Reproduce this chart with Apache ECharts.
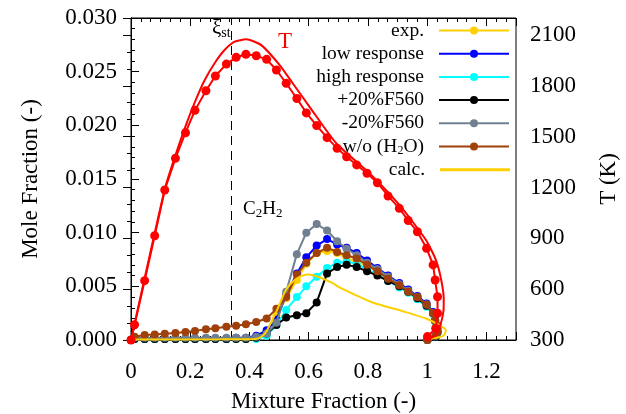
<!DOCTYPE html>
<html><head><meta charset="utf-8">
<script src="https://cdn.jsdelivr.net/npm/echarts@6/dist/echarts.min.js"></script>
<style>html,body{margin:0;padding:0;background:#fff}#c{width:626px;height:414px}</style>
</head><body><div id="c"></div>
<script>
// ---- data ----
const XI_EXP = [0, 0.012, 0.046, 0.080, 0.114, 0.150, 0.184, 0.216, 0.253, 0.285, 0.322, 0.355, 0.388, 0.423, 0.458, 0.491, 0.524, 0.560, 0.592, 0.627, 0.662, 0.696, 0.728, 0.762, 0.797, 0.832, 0.868, 0.906, 0.936, 0.967, 0.998, 1.020, 1.027, 1.035, 1.035, 1.029, 1.001];
const C2H2_EXP  = [0, 0.0001, 0.0001, 0.0001, 0.0001, 0.0001, 0.0001, 0.0001, 0.0001, 0.0001, 0.0001, 0.0001, 0.0001, 0.0003, 0.0008, 0.0023, 0.0039, 0.0056, 0.0071, 0.0081, 0.0083, 0.0081, 0.0076, 0.0073, 0.0069, 0.0064, 0.0058, 0.0052, 0.0046, 0.0040, 0.0033, 0.0025, 0.0018, 0.0012, 0.0008, 0.0004, 0];
const C2H2_LOW  = [0, 0.0001, 0.0001, 0.0001, 0.0001, 0.0001, 0.0001, 0.0001, 0.0001, 0.0001, 0.0001, 0.0002, 0.0002, 0.0004, 0.0009, 0.0019, 0.0042, 0.0062, 0.0077, 0.0088, 0.0094, 0.0089, 0.0086, 0.0081, 0.0074, 0.0067, 0.0060, 0.0053, 0.0047, 0.0041, 0.0034, 0.0026, 0.0019, 0.0013, 0.0008, 0.0004, 0];
const C2H2_HIGH = [0, 0.0001, 0.0001, 0.0001, 0.0001, 0.0001, 0.0001, 0.0001, 0.0001, 0.0001, 0.0001, 0.0001, 0.0001, 0.0001, 0.0004, 0.0014, 0.0028, 0.0040, 0.0050, 0.0059, 0.0067, 0.0072, 0.0073, 0.0071, 0.0066, 0.0061, 0.0055, 0.0049, 0.0044, 0.0038, 0.0031, 0.0024, 0.0017, 0.0011, 0.0007, 0.0003, 0];
const C2H2_P20  = [0, 0.0001, 0.0001, 0.0001, 0.0001, 0.0001, 0.0001, 0.0001, 0.0001, 0.0001, 0.0001, 0.0001, 0.0001, 0.0002, 0.0006, 0.0014, 0.0021, 0.0023, 0.0025, 0.0035, 0.0062, 0.0068, 0.0070, 0.0068, 0.0064, 0.0060, 0.0055, 0.0050, 0.0045, 0.0039, 0.0032, 0.0025, 0.0018, 0.0012, 0.0007, 0.0003, 0];
const C2H2_M20  = [0, 0.0002, 0.0002, 0.0002, 0.0002, 0.0002, 0.0002, 0.0002, 0.0002, 0.0002, 0.0002, 0.0002, 0.0002, 0.0003, 0.0006, 0.0016, 0.0045, 0.0080, 0.0100, 0.0108, 0.0102, 0.0092, 0.0085, 0.0079, 0.0072, 0.0066, 0.0059, 0.0052, 0.0046, 0.0040, 0.0033, 0.0025, 0.0018, 0.0012, 0.0008, 0.0004, 0];
const C2H2_NOH2O= [0, 0.0003, 0.00047, 0.00052, 0.00058, 0.00066, 0.00075, 0.00085, 0.0010, 0.0011, 0.00124, 0.00133, 0.00146, 0.00168, 0.0020, 0.0029, 0.0040, 0.0061, 0.0072, 0.0081, 0.0086, 0.0082, 0.0079, 0.0076, 0.0070, 0.0064, 0.0057, 0.0051, 0.0045, 0.0040, 0.0033, 0.0025, 0.0018, 0.0012, 0.0008, 0.0004, 0];
const T_EXP = [300, 390, 650, 915, 1185, 1372, 1523, 1655, 1771, 1858, 1928, 1968, 1986, 1977, 1956, 1893, 1815, 1725, 1640, 1565, 1494, 1431, 1381, 1333, 1284, 1228, 1150, 1077, 1005, 939, 841, 743, 654, 555, 458, 369, 320];

const XI_CALC   = [0, 0.30, 0.42, 0.44, 0.457, 0.49, 0.524, 0.558, 0.60, 0.64, 0.681, 0.704, 0.75, 0.816, 0.928, 0.996, 1.04, 1.063, 1.055, 1.03, 1.007];
const C2H2_CALC = [0.00005, 0.00006, 0.0001, 0.0003, 0.0008, 0.0026, 0.0047, 0.0057, 0.0061, 0.0058, 0.0053, 0.0049, 0.0043, 0.0035, 0.0026, 0.0020, 0.0014, 0.0009, 0.0004, 0.0002, 0.0001];
const XI_TCALC  = [0, 0.114, 0.150, 0.184, 0.216, 0.249, 0.285, 0.316, 0.350, 0.389, 0.44, 0.502, 0.546, 0.603, 0.693, 0.805, 0.906, 0.996, 1.030, 1.048, 1.056, 1.055, 1.045, 1.029, 1.012, 1.0];
const T_CALC    = [300, 1190, 1390, 1560, 1705, 1834, 1940, 2011, 2060, 2074, 2040, 1922, 1815, 1676, 1461, 1284, 1097, 890, 770, 650, 540, 470, 390, 330, 310, 300];

const XI_ST = 0.343;
const X_TICKS = {min: 0, max: 1.3, interval: 0.2};
const Y_TICKS = {min: 0, max: 0.030, interval: 0.005};
const T_TICKS = {min: 300, max: 2200, interval: 300};

const NAMES = ['exp.', 'low response', 'high response', '+20%F560', '-20%F560', 'w/o (H2O)', 'calc.'];
const COLORS = ['#FFD000', '#0000FF', '#00FFFF', '#000000', '#708090', '#A0400A', '#FFD000'];
const SERIES_DATA = [C2H2_EXP, C2H2_LOW, C2H2_HIGH, C2H2_P20, C2H2_M20, C2H2_NOH2O];

// ---- chart ----
const FONT = 'Liberation Serif';
const AX_FS = 23;
const LG_FS = 19.5;
const pair = (xs, ys) => xs.map((x, i) => [x, ys[i]]);
const chart = echarts.init(document.getElementById('c'), null, {renderer: 'canvas'});

const axisCommon = {
  axisLine: {show: true, lineStyle: {color: '#000', width: 1}},
  axisTick: {show: true, inside: true, length: 8, lineStyle: {color: '#000'}},
  splitLine: {show: false},
  nameTextStyle: {fontFamily: FONT, fontSize: AX_FS, color: '#000'}
};

const series = [];
SERIES_DATA.forEach((d, i) => {
  series.push({
    name: NAMES[i], type: 'line', xAxisIndex: 0, yAxisIndex: 0,
    data: pair(XI_EXP, d), symbol: 'circle', symbolSize: 8, showSymbol: true,
    lineStyle: {color: COLORS[i], width: 2}, itemStyle: {color: COLORS[i]},
    z: 2 + i, animation: false
  });
});
series.push({
  name: 'calc.', type: 'line', xAxisIndex: 0, yAxisIndex: 0,
  data: pair(XI_CALC, C2H2_CALC), symbol: 'none', smooth: 0.3,
  lineStyle: {color: COLORS[6], width: 2}, itemStyle: {color: COLORS[6]}, z: 9, animation: false,
  markLine: {silent: true, symbol: 'none', label: {show: false},
    lineStyle: {type: [9, 6], color: '#000', width: 1}, data: [{xAxis: XI_ST}], animation: false}
});
series.push({
  name: 'T exp', type: 'line', xAxisIndex: 0, yAxisIndex: 1,
  data: pair(XI_EXP, T_EXP), symbol: 'circle', symbolSize: 9,
  lineStyle: {color: '#FF0000', width: 2}, itemStyle: {color: '#FF0000'}, z: 10, animation: false
});
series.push({
  name: 'T calc', type: 'line', xAxisIndex: 0, yAxisIndex: 1,
  data: pair(XI_TCALC, T_CALC), symbol: 'none', smooth: 0.2,
  lineStyle: {color: '#FF0000', width: 2}, itemStyle: {color: '#FF0000'}, z: 10, animation: false
});

const legends = NAMES.map((n, i) => {
  const isCalc = n === 'calc.';
  const lg = {
    data: [n], right: 116, top: 20.5 + i * 23.2, orient: 'vertical', align: 'right', z: 20,
    itemWidth: 70, itemHeight: isCalc ? 3 : 10, itemGap: 0, padding: 0, selectedMode: false,
    formatter: (name) => name === 'w/o (H2O)' ? '{n|w/o (H}{s|2}{n|O)}' : '{n|' + name + '}',
    textStyle: {fontFamily: FONT, fontSize: LG_FS, color: '#000', padding: [0, 10, 0, 0],
      rich: {n: {fontFamily: FONT, fontSize: LG_FS, color: '#000'},
             s: {fontFamily: FONT, fontSize: 12, color: '#000', padding: [9, 0, 0, 0]}}}
  };
  if (isCalc) { lg.icon = 'rect'; lg.itemStyle = {color: COLORS[6]}; }
  return lg;
});

chart.setOption({
  animation: false,
  backgroundColor: '#fff',
  grid: {left: 131, right: 110, top: 18, bottom: 74, show: true, borderColor: '#000', borderWidth: 1,
    containLabel: false, outerBoundsMode: 'none'},
  legend: legends,
  xAxis: [
    Object.assign({}, axisCommon, {type: 'value', position: 'bottom', min: X_TICKS.min, max: X_TICKS.max, interval: X_TICKS.interval,
      minorTick: {show: true, splitNumber: 6, length: 4, lineStyle: {color: '#000'}},
      axisLabel: {fontFamily: FONT, fontSize: AX_FS, color: '#000', margin: 20, showMaxLabel: false, formatter: v => String(v)},
      name: 'Mixture Fraction (-)', nameLocation: 'middle', nameGap: 50}),
    Object.assign({}, axisCommon, {type: 'value', position: 'top', min: X_TICKS.min, max: X_TICKS.max, interval: X_TICKS.interval,
      minorTick: {show: true, splitNumber: 6, length: 4, lineStyle: {color: '#000'}},
      axisLabel: {show: false}})
  ],
  yAxis: [
    Object.assign({}, axisCommon, {type: 'value', position: 'left', min: Y_TICKS.min, max: Y_TICKS.max, interval: Y_TICKS.interval,
      minorTick: {show: true, splitNumber: 5, length: 4, lineStyle: {color: '#000'}},
      axisLabel: {fontFamily: FONT, fontSize: AX_FS, color: '#000', margin: 14, formatter: v => v.toFixed(3)},
      name: 'Mole Fraction (-)', nameLocation: 'middle', nameGap: 89}),
    Object.assign({}, axisCommon, {type: 'value', position: 'right', min: T_TICKS.min, max: T_TICKS.max, interval: T_TICKS.interval,
      minorTick: {show: true, splitNumber: 3, length: 4, lineStyle: {color: '#000'}},
      axisLabel: {fontFamily: FONT, fontSize: AX_FS, color: '#000', margin: 14, showMaxLabel: false, formatter: v => String(v)},
      name: 'T (K)', nameLocation: 'middle', nameGap: 81})
  ],
  graphic: [
    {type: 'text', left: 212, top: 18, style: {text: '{g|ξ}{s|st}', rich: {
      g: {fontFamily: FONT, fontSize: 21, fill: '#000'}, s: {fontFamily: FONT, fontSize: 14, fill: '#000', padding: [10, 0, 0, 0]}}}},
    {type: 'text', left: 278, top: 30, style: {text: 'T', fontFamily: FONT, fontSize: 23, fill: '#FF0000'}},
    {type: 'text', left: 243, top: 200, style: {text: '{n|C}{s|2}{n|H}{s|2}', rich: {
      n: {fontFamily: FONT, fontSize: 19, fill: '#000'}, s: {fontFamily: FONT, fontSize: 13, fill: '#000', padding: [9, 0, 0, 0]}}}}
  ],
  series: series
});
</script></body></html>
